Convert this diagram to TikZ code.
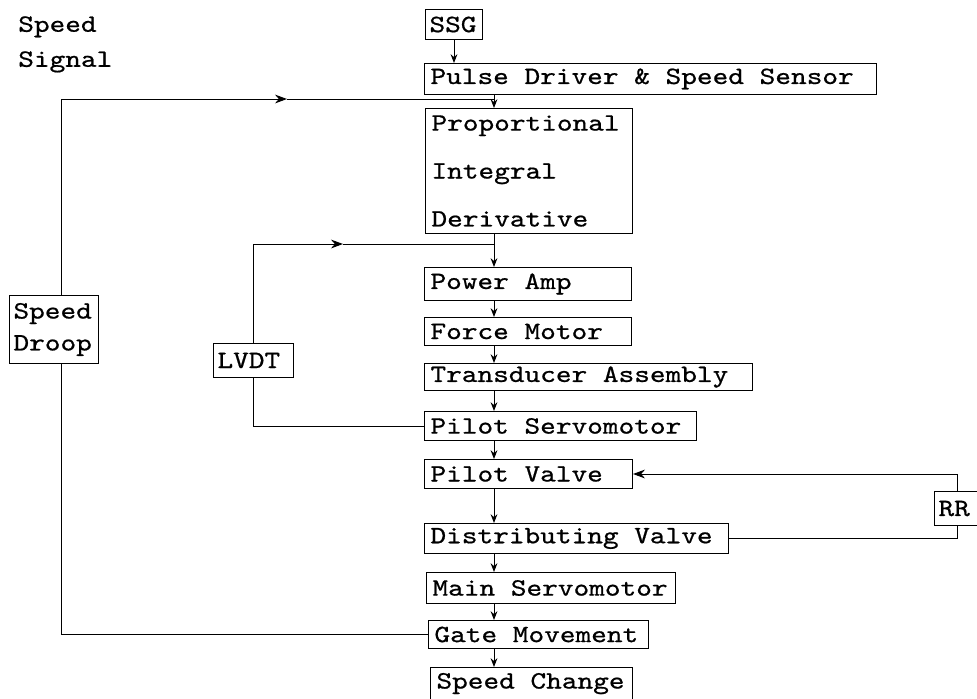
\documentclass[tikz,border=0pt]{standalone}
\usepackage{fontspec}
\newfontfamily\typew[FakeStretch=1.2, FakeBold=0.7]{lmmono10-regular.otf}
\newcommand\twsize[1]{\typew\fontsize{17.7}{#1}\selectfont}
\usetikzlibrary{arrows.meta}

\begin{document}
\begin{tikzpicture}[
    typed/.style={align=left, font={\twsize{24}},
                  execute at begin node={\spaceskip=11.15pt\xspaceskip=11.15pt\relax}},
    blk/.style={typed, draw, line width=0.7pt, anchor=north west, inner xsep=1.5mm, inner ysep=0pt},
    arr/.style={-{Stealth[length=2.2mm,width=1.7mm]}, line width=0.7pt},
    bigarr/.style={-{Stealth[length=3mm,width=2.2mm]}, line width=0.7pt},
    link/.style={line width=0.7pt}]

    \useasboundingbox (0,0) rectangle (24.425,-17.45);

    \node[typed, anchor=north west, inner sep=0pt, font={\twsize{24.9}}] (sig) at (0.45,-0.4) {Speed\\Signal};

    % main path
    \node[blk, inner xsep=1mm, text width=1.225cm, minimum height=0.75cm] (ssg) at (10.625,-0.225) {SSG};
    \node[blk, text width=11cm, minimum height=0.775cm] (pulse) at (10.6,-1.575) {Pulse Driver \& Speed Sensor};
    \node[blk, text width=4.875cm, minimum height=3.125cm, font={\twsize{34.1}}] (pid) at (10.625,-2.7) {Proportional\\Integral\\Derivative};
    \node[blk, text width=4.875cm, minimum height=0.825cm] (pamp) at (10.6,-6.675) {Power Amp};
    \node[blk, text width=4.875cm, minimum height=0.7cm] (fmot) at (10.6,-7.925) {Force Motor};
    \node[blk, text width=7.9cm, minimum height=0.675cm] (trans) at (10.6,-9.075) {Transducer Assembly};
    \node[blk, text width=6.5cm, minimum height=0.725cm] (psrv) at (10.6,-10.275) {Pilot Servomotor};
    \node[blk, text width=4.9cm, minimum height=0.725cm] (pvalve) at (10.6,-11.475) {Pilot Valve};
    \node[blk, text width=7.3cm, minimum height=0.75cm] (dvalve) at (10.6,-13.075) {Distributing Valve};
    \node[blk, text width=5.925cm, minimum height=0.775cm] (msrv) at (10.65,-14.3) {Main Servomotor};
    \node[blk, text width=5.2cm, minimum height=0.7cm] (gate) at (10.7,-15.5) {Gate Movement};
    \node[blk, text width=4.75cm, text height=0.525cm, text depth=0.425cm] (schg) at (10.75,-16.675) {Speed Change};

    % feedback blocks
    \node[blk, inner xsep=1mm, text width=0.95cm, minimum height=0.85cm] (rr) at (23.35,-12.275) {RR};
    \node[blk, inner xsep=1mm, text width=1.8cm, minimum height=0.85cm] (lvdt) at (5.325,-8.575) {LVDT};
    \node[blk, inner xsep=1mm, text width=2.025cm, minimum height=1.7cm, font={\twsize{22.7}}] (droop) at (0.225,-7.375) {Speed\\Droop};

    \coordinate (spine) at (12.35,0);
    \coordinate (dx) at (1.525,0);
    \coordinate (fbmid) at (7.175,-2.475);
    \coordinate (lvmid) at (8.575,-6.1);

    \draw[arr] (ssg.south) -- (ssg.south |- pulse.north);
    \foreach \a/\b in {pulse/pid, pid/pamp, pamp/fmot, fmot/trans, trans/psrv,
                       psrv/pvalve, pvalve/dvalve, dvalve/msrv, msrv/gate, gate/schg}
        \draw[arr] (\a.south -| spine) -- (\b.north -| spine);

    % speed droop loop
    \draw[link] (gate.west) -| (droop.south -| dx);
    \draw[bigarr] (droop.north -| dx) |- (fbmid);
    \draw[link] (fbmid) -- (fbmid -| spine);

    % LVDT loop
    \draw[link] (psrv.west) -| (lvdt.south);
    \draw[bigarr] (lvdt.north) |- (lvmid);
    \draw[link] (lvmid) -- (lvmid -| spine);

    % RR loop
    \draw[link] (dvalve.east) -| (rr.south);
    \draw[bigarr] (rr.north) |- (pvalve.east);
\end{tikzpicture}
\end{document}
